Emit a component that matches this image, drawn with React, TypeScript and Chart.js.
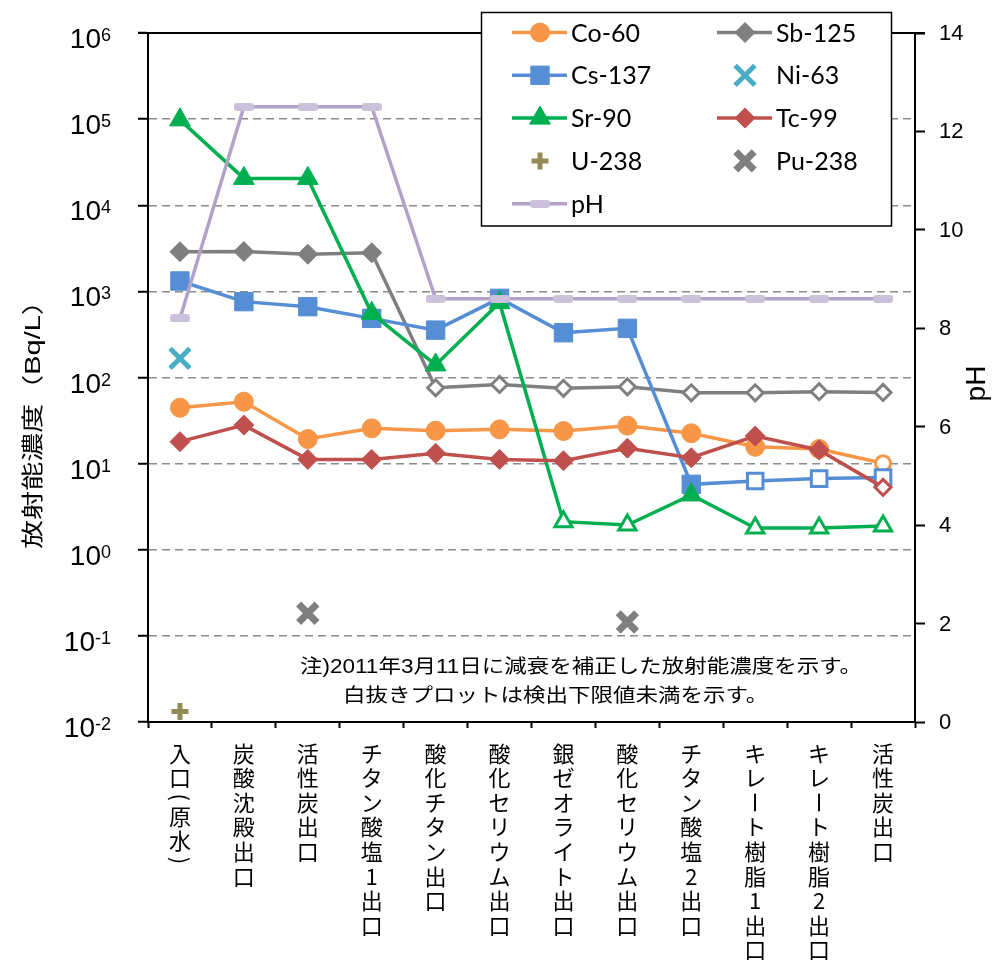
import React, { useEffect, useRef } from 'react';
import { Chart, registerables } from 'chart.js';
import { drawPoint } from 'chart.js/helpers';

Chart.register(...registerables);

// ---------- data ----------
const categories = [
  '入口(原水)', '炭酸沈殿出口', '活性炭出口', 'チタン酸塩1出口', '酸化チタン出口', '酸化セリウム出口',
  '銀ゼオライト出口', '酸化セリウム出口', 'チタン酸塩2出口', 'キレート樹脂1出口', 'キレート樹脂2出口', '活性炭出口',
];

const co60 = [44.6, 52.4, 19.3, 25.7, 24.1, 25, 23.9, 27.6, 22.5, 15.7, 14.8, 10.1];
const cs137 = [1320, 760, 664, 486, 355, 830, 331, 372, 5.75, 6.3, 6.7, 6.9];
const sr90 = [9.8e4, 2.05e4, 2.05e4, 556, 140, 740, 2.12, 1.94, 4.33, 1.79, 1.79, 1.89];
const sb125 = [2890, 2900, 2700, 2800, 76, 83, 75, 78, 66.5, 66.5, 68.4, 67];
const tc99 = [18, 28, 11.2, 11.2, 13.2, 11.2, 10.8, 15.1, 11.7, 20.9, 14.4, 5.3];
const ni63 = [167, null, null, null, null, null, null, null, null, null, null, null];
const u238 = [0.0132, null, null, null, null, null, null, null, null, null, null, null];
const pu238 = [null, null, 0.183, null, null, null, null, 0.145, null, null, null, null];
const ph = [8.2, 12.5, 12.5, 12.5, 8.6, 8.6, 8.6, 8.6, 8.6, 8.6, 8.6, 8.6];

// below detection limit (hollow markers): 1 = hollow
const co60Hollow = [0, 0, 0, 0, 0, 0, 0, 0, 0, 0, 0, 1];
const cs137Hollow = [0, 0, 0, 0, 0, 0, 0, 0, 0, 1, 1, 1];
const sr90Hollow = [0, 0, 0, 0, 0, 0, 1, 1, 0, 1, 1, 1];
const sb125Hollow = [0, 0, 0, 0, 1, 1, 1, 1, 1, 1, 1, 1];
const tc99Hollow = [0, 0, 0, 0, 0, 0, 0, 0, 0, 0, 0, 1];

const concTicks = [1e-2, 1e-1, 1, 10, 100, 1e3, 1e4, 1e5, 1e6];
const phTicks = [0, 2, 4, 6, 8, 10, 12, 14];

const yTitle = '放射能濃度（Bq/L）';
const y1Title = 'pH';
const noteLines = ['注)2011年3月11日に減衰を補正した放射能濃度を示す。', '白抜きプロットは検出下限値未満を示す。'];
const legendRows = [['Co-60', 'Sb-125'], ['Cs-137', 'Ni-63'], ['Sr-90', 'Tc-99'], ['U-238', 'Pu-238'], ['pH']];

// ---------- helpers ----------
const NUM_FONT = '"Liberation Sans", Arial, sans-serif';
const JP_FONT = '"Liberation Sans", "Noto Sans CJK JP", sans-serif';

function drawText(ctx: CanvasRenderingContext2D, text: string, x: number, y: number, font: string, o: any = {}) {
  ctx.save();
  ctx.translate(x, y);
  if (o.rotate) ctx.rotate(o.rotate);
  ctx.scale(o.sx ?? 1, o.sy ?? 1);
  ctx.font = font;
  ctx.textAlign = o.align ?? 'left';
  ctx.textBaseline = o.baseline ?? 'alphabetic';
  ctx.fillStyle = o.color ?? '#000';
  ctx.fillText(text, 0, 0);
  ctx.restore();
}

function series(label: string, data: any[], color: string, style: any, radius: number, hollow: number[] | null, order: number, extra: any = {}) {
  return {
    label,
    data,
    order,
    yAxisID: 'y',
    borderColor: color,
    backgroundColor: color,
    borderWidth: 3.5,
    pointStyle: style,
    pointRadius: data.map((_, i) => (hollow && hollow[i] ? radius - 2 : radius)),
    pointBackgroundColor: data.map((_, i) => (hollow && hollow[i] ? '#ffffff' : color)),
    pointBorderColor: color,
    pointBorderWidth: data.map((_, i) => (hollow && hollow[i] ? 3 : 1)),
    baseRadius: radius,
    ...extra,
  };
}

const overlayPlugin = {
  id: 'overlay',
  afterDraw(chart: any) {
    const ctx: CanvasRenderingContext2D = chart.ctx;
    const { left, right, top, bottom } = chart.chartArea;
    const ys = chart.scales.y;
    const y1s = chart.scales.y1;
    const xs = chart.scales.x;
    ctx.save();

    // top frame of the plot area
    ctx.strokeStyle = '#000';
    ctx.lineWidth = 2;
    ctx.beginPath();
    ctx.moveTo(left - 10, top);
    ctx.lineTo(right + 10, top);
    ctx.stroke();

    // left tick labels 10^n
    for (const v of concTicks) {
      const py = ys.getPixelForValue(v);
      const exp = String(Math.round(Math.log10(v)));
      ctx.font = '18px ' + NUM_FONT;
      const ew = ctx.measureText(exp).width;
      const xr = left - 37;
      drawText(ctx, exp, xr, py + 8, '18px ' + NUM_FONT, { align: 'right' });
      drawText(ctx, '10', xr - ew, py + 15, '28px ' + NUM_FONT, { align: 'right' });
    }

    // right tick labels
    for (const v of phTicks) {
      const py = y1s.getPixelForValue(v);
      drawText(ctx, String(v), right + 24, py + 1, '22px ' + NUM_FONT, { baseline: 'middle' });
    }

    // axis titles
    drawText(ctx, yTitle, 34, (top + bottom) / 2 + 40, '29px ' + JP_FONT, {
      align: 'center', baseline: 'middle', rotate: -Math.PI / 2, sy: 0.75,
    });
    drawText(ctx, y1Title, right + 62, (top + bottom) / 2 + 6, '28px ' + NUM_FONT, {
      align: 'center', baseline: 'middle', rotate: -Math.PI / 2,
    });

    // category labels, stacked vertically
    categories.forEach((lab, i) => {
      const cx = xs.getPixelForValue(i);
      let t = bottom + 19;
      for (const ch of lab) {
        const isParen = ch === '(' || ch === ')';
        const adv = isParen ? 14 : 24.6;
        const cy = t + adv / 2;
        const rot = isParen || ch === 'ー';
        drawText(ctx, ch, cx, cy, '22px "Noto Sans CJK JP", sans-serif', {
          align: 'center', baseline: 'middle', rotate: rot ? Math.PI / 2 : 0,
        });
        t += adv;
      }
    });

    // note text
    drawText(ctx, noteLines[0], 300, 668, '22.5px ' + JP_FONT, { baseline: 'middle', sy: 0.86 });
    drawText(ctx, noteLines[1], 343, 697, '22.5px ' + JP_FONT, { baseline: 'middle', sy: 0.86 });

    // legend
    const bx = 481.5, by = 12.5, bw = 410, bh = 213.5;
    ctx.fillStyle = '#fff';
    ctx.fillRect(bx, by, bw, bh);
    ctx.strokeStyle = '#000';
    ctx.lineWidth = 1.5;
    ctx.strokeRect(bx, by, bw, bh);
    const colX = [512, 717];
    legendRows.forEach((row, r) => {
      const ry = 32.5 + r * 42.8;
      row.forEach((name, c) => {
        const ds = chart.data.datasets.find((d: any) => d.label === name);
        if (!ds) return;
        const x0 = colX[c];
        if (ds.showLine !== false) {
          ctx.strokeStyle = ds.borderColor;
          ctx.lineWidth = ds.borderWidth;
          ctx.beginPath();
          ctx.moveTo(x0, ry);
          ctx.lineTo(x0 + 55, ry);
          ctx.stroke();
        }
        const pbw = Array.isArray(ds.pointBorderWidth) ? ds.pointBorderWidth[0] : ds.pointBorderWidth;
        ctx.fillStyle = ds.backgroundColor;
        ctx.strokeStyle = ds.pointBorderColor || ds.borderColor;
        ctx.lineWidth = pbw;
        drawPoint(ctx, { pointStyle: ds.pointStyle, radius: ds.baseRadius, rotation: 0, borderWidth: pbw } as any, x0 + 28, ry);
        drawText(ctx, name, x0 + 59, ry + 1, '25px Lato, "Liberation Sans", sans-serif', { baseline: 'middle' });
      });
    });

    ctx.restore();
  },
};

export default function App() {
  const ref = useRef<HTMLCanvasElement>(null);

  useEffect(() => {
    const canvas = ref.current;
    if (!canvas) return;

    const phMarker = document.createElement('canvas');
    phMarker.width = 20;
    phMarker.height = 8;
    const m = phMarker.getContext('2d')!;
    m.fillStyle = '#CCC1DA';
    m.beginPath();
    const rr = 3;
    m.moveTo(rr, 0);
    m.lineTo(20 - rr, 0);
    m.arc(20 - rr, rr, rr, -Math.PI / 2, 0);
    m.lineTo(20, 8 - rr);
    m.arc(20 - rr, 8 - rr, rr, 0, Math.PI / 2);
    m.lineTo(rr, 8);
    m.arc(rr, 8 - rr, rr, Math.PI / 2, Math.PI);
    m.lineTo(0, rr);
    m.arc(rr, rr, rr, Math.PI, Math.PI * 1.5);
    m.closePath();
    m.fill();

    const datasets: any[] = [
      series('Co-60', co60, '#F79646', 'circle', 9.5, co60Hollow, 9),
      series('Sb-125', sb125, '#7F7F7F', 'rectRot', 10, sb125Hollow, 8),
      series('Cs-137', cs137, '#558ED5', 'rect', 13, cs137Hollow, 7),
      series('Ni-63', ni63, '#4BACC6', 'crossRot', 14, null, 6, { showLine: false, pointBorderWidth: 5 }),
      series('Sr-90', sr90, '#00B050', 'triangle', 12, sr90Hollow, 5),
      series('Tc-99', tc99, '#C0504D', 'rectRot', 10, tc99Hollow, 4),
      series('U-238', u238, '#948A54', 'cross', 8.5, null, 3, { showLine: false, pointBorderWidth: 5 }),
      series('Pu-238', pu238, '#7F7F7F', 'crossRot', 13, null, 2, { showLine: false, pointBorderWidth: 7 }),
      {
        label: 'pH',
        data: ph,
        order: 1,
        yAxisID: 'y1',
        borderColor: '#B3A2C7',
        backgroundColor: '#CCC1DA',
        borderWidth: 3.5,
        pointStyle: phMarker,
        pointRadius: 10,
        pointBorderWidth: 0,
        baseRadius: 10,
      },
    ];

    const chart = new Chart(canvas, {
      type: 'line',
      data: { labels: categories, datasets },
      options: {
        responsive: false,
        animation: false,
        events: [],
        devicePixelRatio: 1,
        layout: { padding: { left: 138, right: 72, top: 33, bottom: 233 } },
        elements: { line: { tension: 0 } },
        plugins: { legend: { display: false }, tooltip: { enabled: false } },
        scales: {
          x: {
            type: 'category',
            offset: true,
            ticks: { display: false },
            grid: {
              offset: true,
              drawOnChartArea: false,
              drawTicks: true,
              tickLength: 6,
              tickColor: '#000',
              tickWidth: 2,
            },
            border: { display: true, color: '#000', width: 2 },
          },
          y: {
            type: 'logarithmic',
            position: 'left',
            min: 1e-2,
            max: 1e6,
            afterBuildTicks: (s: any) => {
              s.ticks = concTicks.map((v) => ({ value: v }));
            },
            ticks: { display: false },
            grid: {
              color: (c: any) =>
                c.tick && (c.tick.value === concTicks[0] || c.tick.value === concTicks[concTicks.length - 1])
                  ? 'rgba(0,0,0,0)'
                  : '#8C8C8C',
              lineWidth: 1.5,
              drawTicks: true,
              tickLength: 10,
              tickColor: '#000',
              tickWidth: 2,
            },
            border: { display: true, color: '#000', width: 2, dash: [8, 5] },
          },
          y1: {
            type: 'linear',
            position: 'right',
            min: 0,
            max: 14,
            afterBuildTicks: (s: any) => {
              s.ticks = phTicks.map((v) => ({ value: v }));
            },
            ticks: { display: false },
            grid: {
              drawOnChartArea: false,
              drawTicks: true,
              tickLength: 10,
              tickColor: '#000',
              tickWidth: 2,
            },
            border: { display: true, color: '#000', width: 2 },
          },
        },
      } as any,
      plugins: [overlayPlugin],
    });

    return () => chart.destroy();
  }, []);

  return (
    <div style={{ position: 'absolute', left: 0, top: 0, width: 997, height: 961, background: '#fff' }}>
      <canvas ref={ref} width={997} height={961} style={{ display: 'block', width: 997, height: 961 }} />
    </div>
  );
}
